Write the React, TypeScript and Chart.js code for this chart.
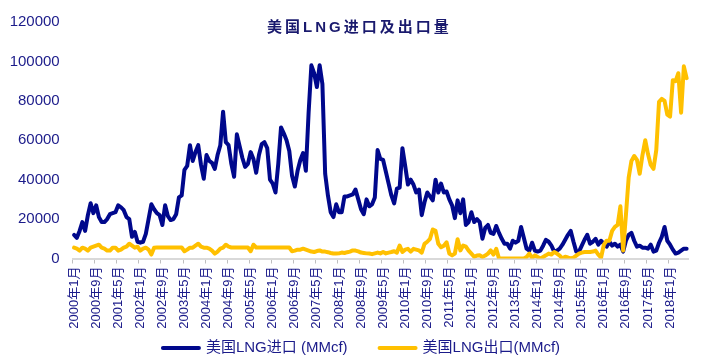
import React, { useEffect, useRef } from 'react';
import { Chart, registerables } from 'chart.js';

Chart.register(...registerables);

// ---- data ----
const START_YEAR = 2000;
const MONTH_COUNT = 223; // 2000-01 .. 2018-07
const categories: string[] = [];
for (let k = 0; k < MONTH_COUNT; k++) {
  categories.push(`${START_YEAR + Math.floor(k / 12)}年${(k % 12) + 1}月`);
}
const TICK_EVERY = 8;

const importSeries: number[] = [
  12000, 10500, 14000, 18500, 14000, 22000, 28000, 23000, 27000, 21000,
  18500, 18500, 20000, 22500, 23000, 23500, 27000, 26000, 24500, 21000,
  20000, 11000, 13500, 8500, 8000, 8500, 12500, 20000, 27500, 25000,
  23000, 22000, 17000, 27000, 21500, 19500, 20000, 22500, 31000, 32000,
  45000, 47000, 57500, 49500, 54000, 57500, 47500, 40500, 52500, 49500,
  48500, 45500, 52500, 57500, 74500, 59000, 57500, 48000, 41500, 63000,
  57000, 51000, 46500, 48000, 54000, 50500, 43500, 52500, 58000, 59000,
  56000, 40000, 38000, 33500, 48000, 66500, 63500, 60000, 54500, 42000,
  36500, 44500, 50000, 53500, 44500, 74000, 98000, 94000, 87000, 98000,
  88500, 43000, 32000, 23500, 21000, 27500, 23500, 23500, 31500, 31500,
  32000, 32500, 35000, 30000, 25000, 22500, 30000, 26500, 27500, 31000,
  55000, 50500, 50000, 44000, 38000, 32000, 28000, 35500, 36000, 56000,
  47000, 37500, 40000, 37500, 33500, 35000, 22000, 28500, 33500, 31500,
  29500, 40000, 33500, 38000, 33500, 34000, 30000, 27000, 20500, 29500,
  23000, 30000, 17000, 18500, 23500, 18500, 20000, 18500, 10000, 15500,
  17000, 13000, 12500, 16500, 13000, 10000, 7500, 7500, 5000, 9000,
  8000, 9000, 16000, 10500, 5000, 4000, 8000, 4000, 3500, 4000,
  6500, 9500, 8500, 6500, 3500, 4000, 5000, 7000, 9500, 12000,
  14000, 8500, 3500, 3500, 6500, 9500, 12000, 7500, 8500, 10000,
  7000, 9000, 7500, 6000, 8500, 6500, 7500, 6000, 7000, 3500,
  9000, 12000, 13000, 9000, 6000, 6500, 5500, 5500, 5000, 7000,
  3500, 4000, 8000, 11000, 16000, 9000, 7000, 4500, 2500, 3000,
  4000, 5000, 5000,
];

const exportSeries: number[] = [
  5500, 5000, 4000, 5500, 5000, 4000, 5500, 6000, 6500, 7000,
  5500, 5000, 4000, 4000, 5500, 5500, 4000, 4500, 5500, 6000,
  7500, 6500, 5500, 6000, 4000, 5000, 5500, 4500, 2000, 5500,
  5600, 5600, 5600, 5600, 5600, 5600, 5600, 5600, 5600, 5600,
  3700, 4500, 5500, 5500, 6500, 7500, 6000, 5500, 5500, 5000,
  4000, 2500, 3500, 5000, 5500, 7000, 6000, 5600, 5600, 5600,
  5600, 5600, 5600, 5600, 3700, 7000, 5600, 5600, 5600, 5600,
  5600, 5600, 5600, 5600, 5600, 5600, 5600, 5600, 5600, 3700,
  4000, 4500, 4500, 5000, 4500, 4000, 3500, 3300, 3800, 4100,
  3500, 3500, 3200, 2800, 2500, 2500, 2600, 3000, 2800, 3200,
  3500, 4100, 4000, 3600, 3000, 2800, 2600, 2500, 2200, 2600,
  3000, 2600, 3300, 2600, 3000, 3300, 3700, 3000, 6600, 3300,
  4500, 4900, 3500, 4900, 4500, 4100, 3000, 7400, 8500, 10000,
  14700, 14000, 7500, 5700, 6500, 8200, 2500, 1600, 2500, 9800,
  4100, 6600, 6000, 4000, 2500, 900, 1500, 1600, 800, 1500,
  2500, 4100, 2000, 4900, 0, 0, 0, 0, 0, 0,
  0, 0, 0, 0, 800, 2500, 300, 1600, 800, 0,
  800, 1600, 2500, 2000, 3300, 2500, 1500, 0, 900, 500,
  0, 500, 1500, 2500, 3000, 3300, 3300, 3300, 3500, 4000,
  2000, 500, 7000, 9000, 9000, 14000, 16000, 17000, 26500, 4000,
  22000, 41000, 49500, 52000, 50000, 43000, 52500, 60000, 53000, 47500,
  45500, 55000, 79500, 81000, 80000, 73000, 72000, 90500, 90000, 94000,
  74000, 97500, 91500,
];

const Y_MIN = 0;
const Y_MAX = 120000;
const Y_STEP = 20000;

const TITLE = '美国LNG进口及出口量';
const SERIES_NAMES = ['美国LNG进口 (MMcf)', '美国LNG出口(MMcf)'];

// ---- style ----
const FONT = "'Liberation Sans', Arial, 'Noto Sans CJK SC', sans-serif";
const NAVY = '#1b1b8a';
const BLUE = '#00088c';
const GOLD = '#ffc000';
const AXIS_GRAY = '#d9d9d9';

const LEGEND_SPACE = 35;
const LEGEND_Y = 348;
const SAMPLE_W = 40;
const SAMPLE_GAP = 5;
const ITEM_GAP = 30;

const titlePlugin = {
  id: 'innerTitle',
  afterDraw(chart: any) {
    const ctx = chart.ctx as CanvasRenderingContext2D;
    ctx.save();
    ctx.font = `bold 15px ${FONT}`;
    ctx.fillStyle = '#1a1a6e';
    (ctx as any).letterSpacing = '3px';
    ctx.textBaseline = 'middle';
    ctx.textAlign = 'left';
    ctx.fillText(TITLE, 267, 28);
    ctx.restore();
  },
};

const legendPlugin = {
  id: 'lineLegend',
  afterDraw(chart: any) {
    const ctx = chart.ctx as CanvasRenderingContext2D;
    ctx.save();
    ctx.font = `15px ${FONT}`;
    const items = chart.data.datasets.map((d: any) => ({
      text: d.label as string,
      color: d.borderColor as string,
      w: ctx.measureText(d.label).width,
    }));
    const total =
      items.reduce((s: number, it: any) => s + SAMPLE_W + SAMPLE_GAP + it.w, 0) +
      ITEM_GAP * (items.length - 1);
    let x = (chart.width - total) / 2;
    ctx.textBaseline = 'middle';
    ctx.textAlign = 'left';
    for (const it of items) {
      ctx.strokeStyle = it.color;
      ctx.lineWidth = 4;
      ctx.lineCap = 'round';
      ctx.beginPath();
      ctx.moveTo(x + 2, LEGEND_Y);
      ctx.lineTo(x + SAMPLE_W - 2, LEGEND_Y);
      ctx.stroke();
      ctx.fillStyle = NAVY;
      ctx.fillText(it.text, x + SAMPLE_W + SAMPLE_GAP, LEGEND_Y);
      x += SAMPLE_W + SAMPLE_GAP + it.w + ITEM_GAP;
    }
    ctx.restore();
  },
};

export default function App() {
  const ref = useRef<HTMLCanvasElement | null>(null);

  useEffect(() => {
    if (!ref.current) return;
    const chart = new Chart(ref.current, {
      type: 'line',
      data: {
        labels: categories,
        datasets: [
          {
            label: SERIES_NAMES[0],
            data: importSeries,
            borderColor: BLUE,
            backgroundColor: BLUE,
            borderWidth: 4,
            pointRadius: 0,
            tension: 0,
            fill: false,
            borderJoinStyle: 'round',
            borderCapStyle: 'round',
            order: 1,
          },
          {
            label: SERIES_NAMES[1],
            data: exportSeries,
            borderColor: GOLD,
            backgroundColor: GOLD,
            borderWidth: 4,
            pointRadius: 0,
            tension: 0,
            fill: false,
            borderJoinStyle: 'round',
            borderCapStyle: 'round',
            order: 0,
          },
        ],
      },
      options: {
        responsive: false,
        animation: false,
        devicePixelRatio: 1,
        layout: { padding: { left: 0, right: 33, top: 11.7, bottom: LEGEND_SPACE } },
        plugins: {
          legend: { display: false },
          tooltip: { enabled: false },
          title: { display: false },
        },
        scales: {
          x: {
            type: 'category',
            offset: true,
            grid: {
              offset: true,
              drawOnChartArea: false,
              tickLength: 5,
              lineWidth: 1,
              color: (c: any) => (c.index % TICK_EVERY === 0 ? '#bfbfbf' : 'rgba(0,0,0,0)'),
            },
            border: { display: true, color: AXIS_GRAY, width: 2 },
            ticks: {
              autoSkip: false,
              minRotation: 90,
              maxRotation: 90,
              padding: 3,
              color: NAVY,
              font: { size: 13, family: FONT },
              callback: (_v: any, i: number) => (i % TICK_EVERY === 0 ? categories[i] : ''),
            },
            afterFit: (s: any) => {
              s.height = 364 - 258.5 - LEGEND_SPACE;
            },
          },
          y: {
            min: Y_MIN,
            max: Y_MAX,
            ticks: {
              stepSize: Y_STEP,
              padding: 13,
              color: NAVY,
              font: { size: 15, family: FONT },
              callback: (v: any) => String(v),
            },
            grid: { display: false, drawTicks: false },
            border: { display: false },
            afterFit: (s: any) => {
              s.width = 72.7;
            },
          },
        },
      },
      plugins: [titlePlugin, legendPlugin],
    } as any);
    return () => chart.destroy();
  }, []);

  return (
    <div style={{ position: 'fixed', left: 0, top: 0, width: 721, height: 364, background: '#fff' }}>
      <canvas ref={ref} width={721} height={364} style={{ display: 'block', width: 721, height: 364 }} />
    </div>
  );
}
